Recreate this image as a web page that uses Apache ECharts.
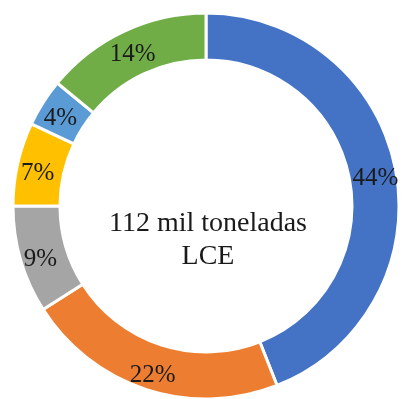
<!DOCTYPE html>
<html>
<head>
<meta charset="utf-8">
<script src="https://cdn.jsdelivr.net/npm/echarts@6/dist/echarts.min.js"></script>
<style>
  html, body { margin: 0; padding: 0; background: #ffffff; }
  #chart { width: 402px; height: 399px; }
</style>
</head>
<body>
<div id="chart"></div>
<script>
// Participación (%) de cada segmento, en sentido horario desde arriba
const shares = [44, 22, 9, 7, 4, 14];
const sliceColors = ['#4472C4', '#ED7D31', '#A5A5A5', '#FFC000', '#5B9BD5', '#70AD47'];
const centerLines = ['112 mil toneladas', 'LCE'];

const chart = echarts.init(document.getElementById('chart'), null, { renderer: 'canvas' });

const serif = '"Liberation Serif", "DejaVu Serif", serif';

chart.setOption({
  animation: false,
  backgroundColor: '#ffffff',
  graphic: [{
    type: 'text',
    x: 208,
    y: 207,
    style: {
      text: centerLines.join('\n'),
      font: '28px ' + serif,
      fill: '#1a1a1a',
      align: 'center',
      verticalAlign: 'top',
      lineHeight: 33
    }
  }],
  series: [{
    type: 'pie',
    center: [206, 206],
    radius: [146, 193],
    startAngle: 90,
    clockwise: true,
    silent: true,
    itemStyle: { borderColor: '#ffffff', borderWidth: 3 },
    label: {
      show: true,
      position: 'inside',
      formatter: '{p|{c}%}',
      rich: {
        // lower the percentage slightly within the ring
        p: {
          fontFamily: serif,
          fontSize: 25,
          color: '#1a1a1a',
          padding: [10, 0, 0, 0]
        }
      }
    },
    labelLine: { show: false },
    data: shares.map((v, i) => ({ value: v, itemStyle: { color: sliceColors[i] } }))
  }]
});
</script>
</body>
</html>
